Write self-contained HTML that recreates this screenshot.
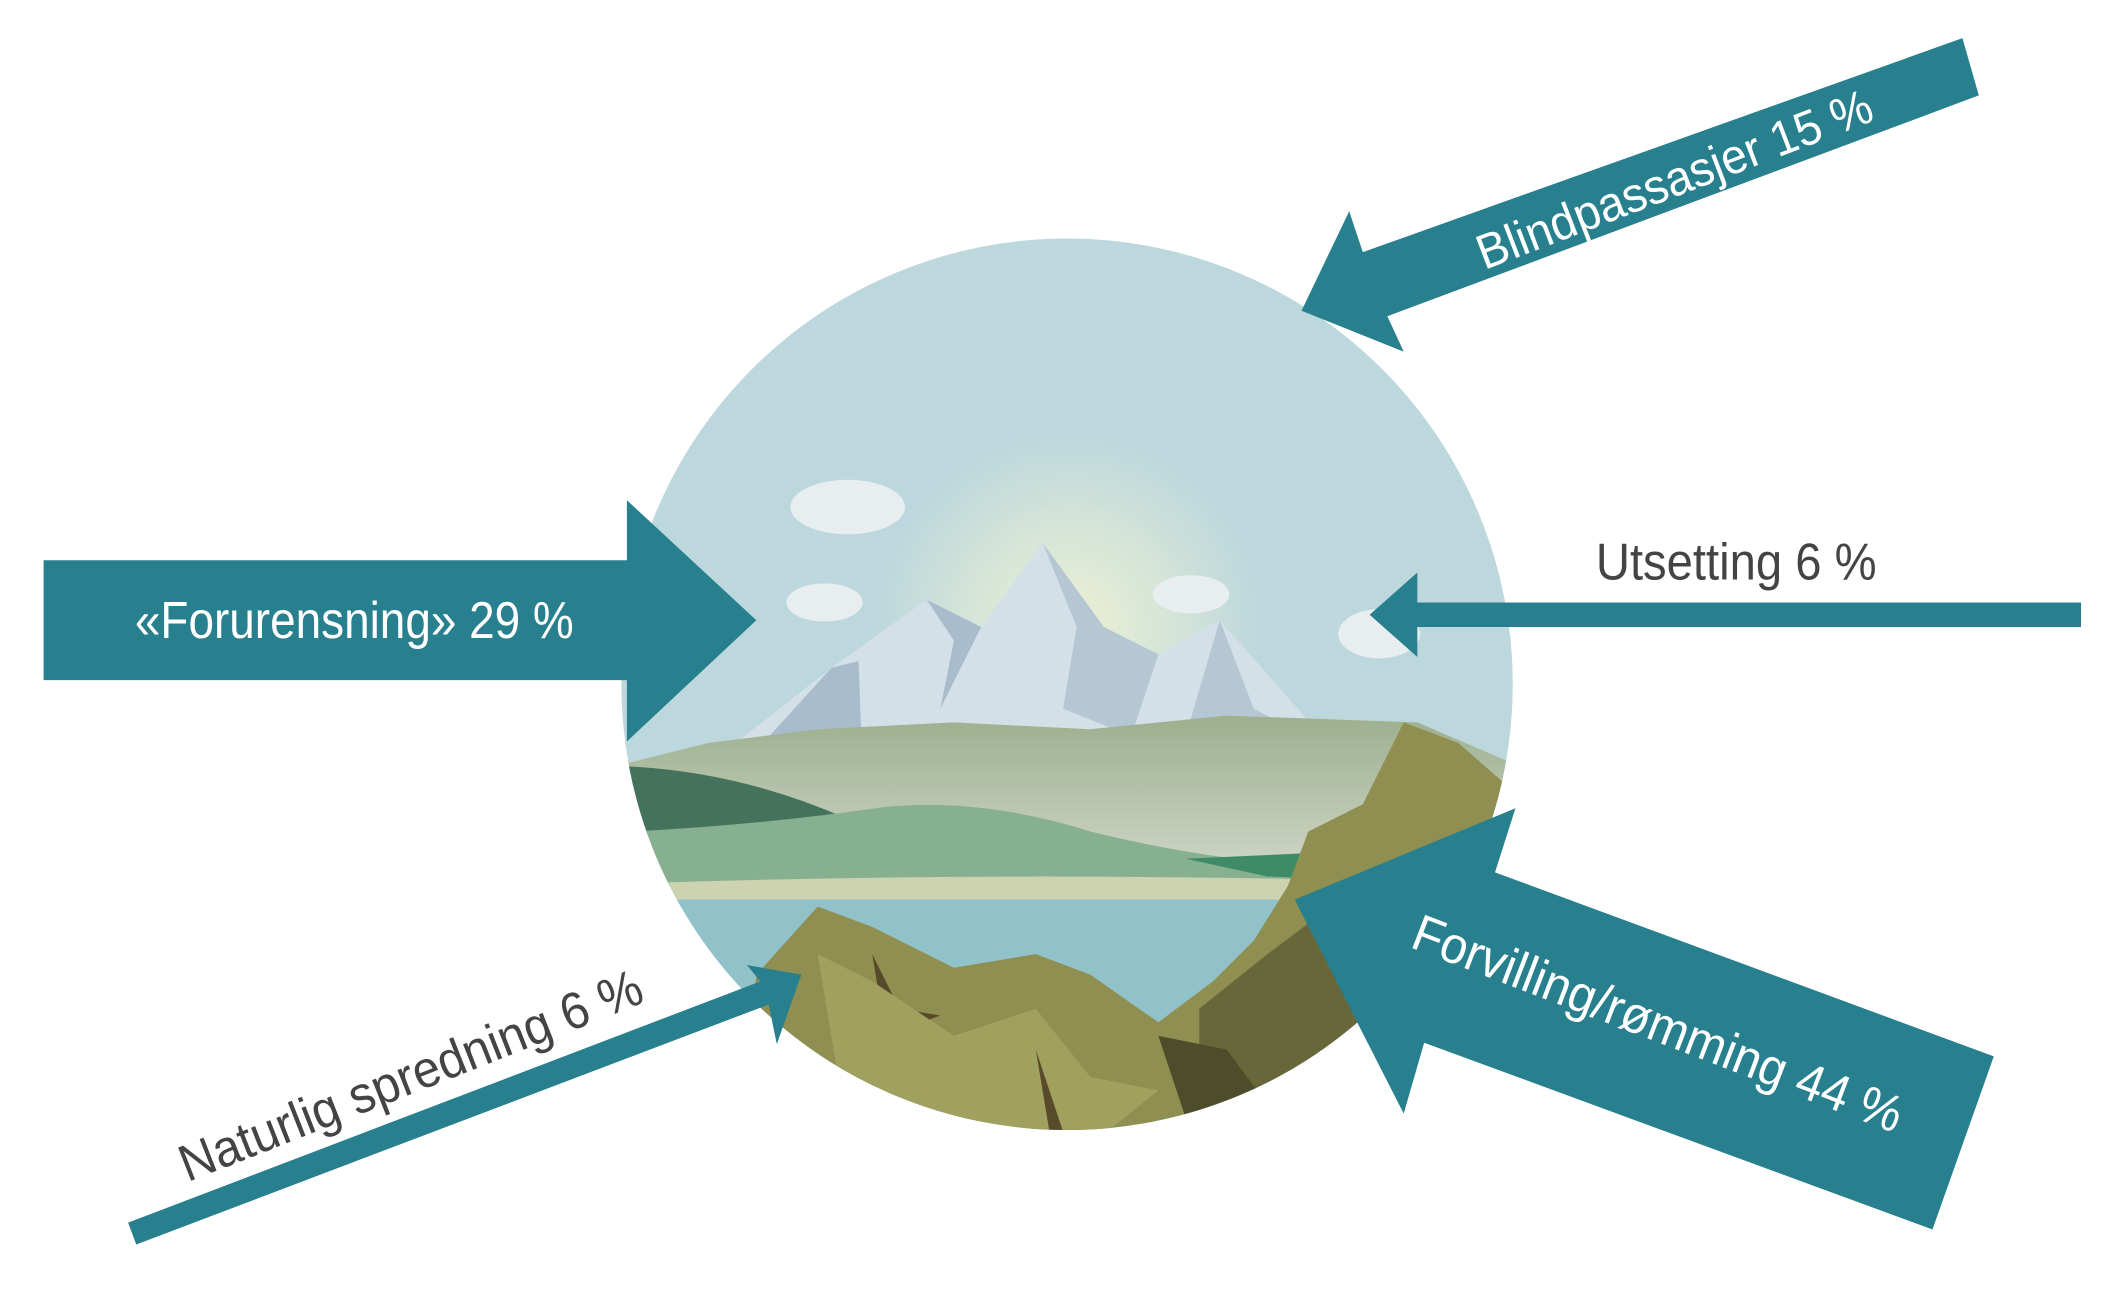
<!DOCTYPE html>
<html><head><meta charset="utf-8"><style>
html,body{margin:0;padding:0;background:#fff;}
svg{display:block;}
text{font-family:"Liberation Sans",sans-serif;}
</style></head><body>
<svg width="2126" height="1299" viewBox="0 0 1560 953" preserveAspectRatio="none" xmlns="http://www.w3.org/2000/svg">
<defs>
<clipPath id="c"><circle cx="783" cy="502" r="327"/></clipPath>
<radialGradient id="sun" cx="785" cy="460" r="140" gradientUnits="userSpaceOnUse">
<stop offset="0" stop-color="#eef0d2"/><stop offset="0.5" stop-color="#d6e5d8"/><stop offset="1" stop-color="#bdd8dc"/></radialGradient>
<linearGradient id="for" x1="0" y1="530" x2="0" y2="640" gradientUnits="userSpaceOnUse">
<stop offset="0" stop-color="#9fb191"/><stop offset="1" stop-color="#cfd6c6"/></linearGradient>
</defs>
<g clip-path="url(#c)">
<rect x="440" y="160" width="700" height="700" fill="#bdd8dc"/>
<circle cx="785" cy="460" r="140" fill="url(#sun)"/>
<g fill="#e8eef0"><ellipse cx="622" cy="372" rx="42" ry="20"/><ellipse cx="605" cy="442" rx="28" ry="14"/><ellipse cx="874" cy="436" rx="28" ry="14"/><ellipse cx="1012" cy="465" rx="30" ry="18"/></g>
<polygon points="540,545 610,490 680,440 720,460 765,398 810,460 850,480 895,455 970,540" fill="#d3e0e8"/>
<polygon points="610,490 630,485 632,540 560,545" fill="#a9bccb"/>
<polygon points="765,398 790,460 780,520 830,540 850,480 810,460" fill="#b6c7d4"/>
<polygon points="680,440 700,470 690,520 720,460" fill="#a9bccb"/>
<polygon points="895,455 920,520 960,540 870,540" fill="#b6c7d4"/>
<path d="M460,560 L520,545 L600,535 L700,530 L800,535 L900,525 L1040,530 L1110,560 L1110,650 L460,650 Z" fill="url(#for)"/>
<path d="M455,562 Q540,565 620,600 Q600,615 460,612 Z" fill="#45725c"/>
<path d="M465,610 Q560,605 650,592 Q720,585 800,610 Q880,630 960,635 L960,650 L470,650 Z" fill="#86b08f"/>
<path d="M870,630 L980,625 L980,645 L930,643 Z" fill="#3f8a67"/>
<path d="M470,648 Q700,640 960,645 L960,662 L470,662 Z" fill="#cdd3b0"/>
<rect x="440" y="660" width="700" height="200" fill="#92c2c9"/>
<path d="M555,715 L600,665 L640,680 L700,710 L760,700 L800,715 L850,750 L890,720 L920,690 L945,650 L960,610 L1000,590 L1030,530 L1070,545 L1110,580 L1110,860 L540,860 Z" fill="#8f8f52"/>
<path d="M880,740 L930,700 L970,670 L1000,700 L1010,760 L950,820 L880,800 Z" fill="#67673a"/>
<path d="M850,760 L900,770 L930,810 L870,820 Z" fill="#4d4d2c"/>
<path d="M640,700 L660,740 L690,745 L650,760 Z" fill="#5a4a2c"/>
<path d="M600,700 L640,720 L700,760 L760,740 L800,790 L850,800 L800,840 L620,820 Z" fill="#a1a15f"/>
<path d="M760,770 L770,830 L780,830 Z" fill="#5a4a2c"/>
</g>
<polygon points="32,411 460,411 460,367 555,455 460,544 460,499 32,499" fill="#28808f"/>
<text x="260" y="468" font-size="38" fill="#fff" text-anchor="middle" textLength="322" lengthAdjust="spacingAndGlyphs">«Forurensning» 29 %</text>
<polygon points="1527,442 1040,442 1040,420 1005,451 1040,482 1040,460 1527,460" fill="#28808f"/>
<text x="1274" y="425" font-size="38" fill="#444" text-anchor="middle" textLength="206" lengthAdjust="spacingAndGlyphs">Utsetting 6 %</text>
<polygon points="1440,28 1452,70 1018,232 1030,258 955,228 990,155 1000,185" fill="#28808f"/>
<text transform="translate(1233,143) rotate(-21)" font-size="36" fill="#fff" text-anchor="middle" textLength="308" lengthAdjust="spacingAndGlyphs">Blindpassasjer 15 %</text>
<polygon points="950,660 1112,593 1097,640 1463,775 1418,902 1045,765 1030,817" fill="#28808f"/>
<text transform="translate(1212,763) rotate(21)" font-size="38" fill="#fff" text-anchor="middle" textLength="382" lengthAdjust="spacingAndGlyphs">Forvilling/rømming 44 %</text>
<polygon points="94,897 558,720 548,708 588,715 570,766 564,737 100,913" fill="#28808f"/>
<text transform="translate(306,801) rotate(-21.5)" font-size="38" fill="#444" text-anchor="middle" textLength="362" lengthAdjust="spacingAndGlyphs">Naturlig spredning 6 %</text>
</svg>
</body></html>
